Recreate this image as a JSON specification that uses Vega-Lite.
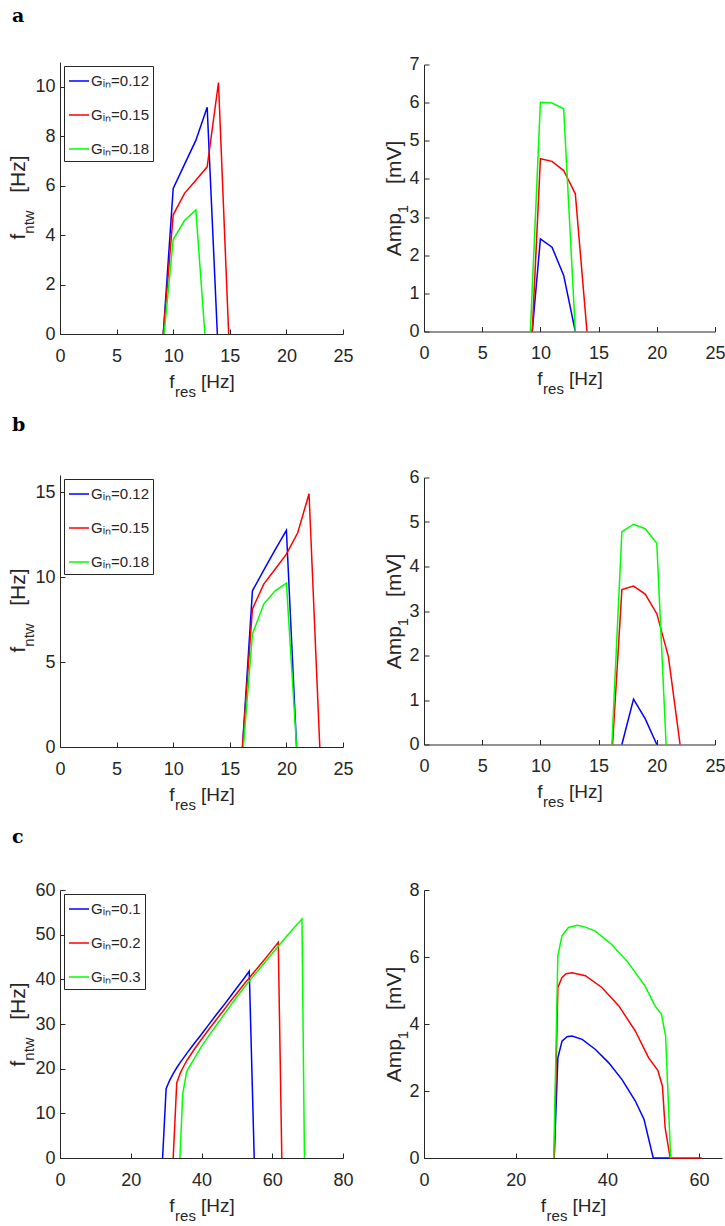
{
  "$schema": "https://vega.github.io/schema/vega-lite/v6.json",
  "background": "white",
  "padding": {"left": 7, "top": 6, "right": 0, "bottom": 0},
  "datasets": {
    "a_f": [
      {"x": 9.12, "y": 0, "G": "Gᵢₙ=0.12"}, {"x": 10, "y": 5.89, "G": "Gᵢₙ=0.12"}, {"x": 11, "y": 6.86, "G": "Gᵢₙ=0.12"}, {"x": 12, "y": 7.83, "G": "Gᵢₙ=0.12"}, {"x": 13, "y": 9.17, "G": "Gᵢₙ=0.12"}, {"x": 13.9, "y": 0, "G": "Gᵢₙ=0.12"},
      {"x": 9.12, "y": 0, "G": "Gᵢₙ=0.15"}, {"x": 10, "y": 4.82, "G": "Gᵢₙ=0.15"}, {"x": 11, "y": 5.69, "G": "Gᵢₙ=0.15"}, {"x": 12, "y": 6.22, "G": "Gᵢₙ=0.15"}, {"x": 13, "y": 6.76, "G": "Gᵢₙ=0.15"}, {"x": 14, "y": 10.17, "G": "Gᵢₙ=0.15"}, {"x": 14.9, "y": 0, "G": "Gᵢₙ=0.15"},
      {"x": 9.2, "y": 0, "G": "Gᵢₙ=0.18"}, {"x": 10, "y": 3.82, "G": "Gᵢₙ=0.18"}, {"x": 11, "y": 4.59, "G": "Gᵢₙ=0.18"}, {"x": 12, "y": 5.02, "G": "Gᵢₙ=0.18"}, {"x": 12.8, "y": 0, "G": "Gᵢₙ=0.18"}
    ],
    "a_amp": [
      {"x": 9.3, "y": 0, "G": "Gᵢₙ=0.12"}, {"x": 10, "y": 2.43, "G": "Gᵢₙ=0.12"}, {"x": 11, "y": 2.21, "G": "Gᵢₙ=0.12"}, {"x": 12, "y": 1.47, "G": "Gᵢₙ=0.12"}, {"x": 13, "y": 0, "G": "Gᵢₙ=0.12"},
      {"x": 9.3, "y": 0, "G": "Gᵢₙ=0.15"}, {"x": 10, "y": 4.53, "G": "Gᵢₙ=0.15"}, {"x": 11, "y": 4.46, "G": "Gᵢₙ=0.15"}, {"x": 12, "y": 4.22, "G": "Gᵢₙ=0.15"}, {"x": 13, "y": 3.61, "G": "Gᵢₙ=0.15"}, {"x": 14, "y": 0, "G": "Gᵢₙ=0.15"},
      {"x": 9.14, "y": 0, "G": "Gᵢₙ=0.18"}, {"x": 10, "y": 6.01, "G": "Gᵢₙ=0.18"}, {"x": 11, "y": 5.99, "G": "Gᵢₙ=0.18"}, {"x": 12, "y": 5.84, "G": "Gᵢₙ=0.18"}, {"x": 13, "y": 0, "G": "Gᵢₙ=0.18"}
    ],
    "b_f": [
      {"x": 16.12, "y": 0, "G": "Gᵢₙ=0.12"}, {"x": 17, "y": 9.19, "G": "Gᵢₙ=0.12"}, {"x": 18, "y": 10.4, "G": "Gᵢₙ=0.12"}, {"x": 19, "y": 11.6, "G": "Gᵢₙ=0.12"}, {"x": 20, "y": 12.75, "G": "Gᵢₙ=0.12"}, {"x": 20.9, "y": 0, "G": "Gᵢₙ=0.12"},
      {"x": 16.12, "y": 0, "G": "Gᵢₙ=0.15"}, {"x": 17, "y": 8.12, "G": "Gᵢₙ=0.15"}, {"x": 18, "y": 9.58, "G": "Gᵢₙ=0.15"}, {"x": 19, "y": 10.46, "G": "Gᵢₙ=0.15"}, {"x": 20, "y": 11.34, "G": "Gᵢₙ=0.15"}, {"x": 21, "y": 12.6, "G": "Gᵢₙ=0.15"}, {"x": 22, "y": 14.9, "G": "Gᵢₙ=0.15"}, {"x": 22.95, "y": 0, "G": "Gᵢₙ=0.15"},
      {"x": 16.2, "y": 0, "G": "Gᵢₙ=0.18"}, {"x": 17, "y": 6.65, "G": "Gᵢₙ=0.18"}, {"x": 18, "y": 8.41, "G": "Gᵢₙ=0.18"}, {"x": 19, "y": 9.19, "G": "Gᵢₙ=0.18"}, {"x": 20, "y": 9.64, "G": "Gᵢₙ=0.18"}, {"x": 20.9, "y": 0, "G": "Gᵢₙ=0.18"}
    ],
    "b_amp": [
      {"x": 17, "y": 0, "G": "Gᵢₙ=0.12"}, {"x": 18, "y": 1.02, "G": "Gᵢₙ=0.12"}, {"x": 19, "y": 0.58, "G": "Gᵢₙ=0.12"}, {"x": 20, "y": 0, "G": "Gᵢₙ=0.12"},
      {"x": 16.2, "y": 0, "G": "Gᵢₙ=0.15"}, {"x": 17, "y": 3.48, "G": "Gᵢₙ=0.15"}, {"x": 18, "y": 3.56, "G": "Gᵢₙ=0.15"}, {"x": 19, "y": 3.38, "G": "Gᵢₙ=0.15"}, {"x": 20, "y": 2.94, "G": "Gᵢₙ=0.15"}, {"x": 21, "y": 1.97, "G": "Gᵢₙ=0.15"}, {"x": 22, "y": 0, "G": "Gᵢₙ=0.15"},
      {"x": 16.14, "y": 0, "G": "Gᵢₙ=0.18"}, {"x": 17, "y": 4.78, "G": "Gᵢₙ=0.18"}, {"x": 18, "y": 4.95, "G": "Gᵢₙ=0.18"}, {"x": 19, "y": 4.85, "G": "Gᵢₙ=0.18"}, {"x": 20, "y": 4.52, "G": "Gᵢₙ=0.18"}, {"x": 20.8, "y": 0, "G": "Gᵢₙ=0.18"}
    ],
    "c_f": [
      {"x": 29, "y": 0, "G": "Gᵢₙ=0.1"}, {"x": 30, "y": 15.5, "G": "Gᵢₙ=0.1"}, {"x": 31, "y": 17.4, "G": "Gᵢₙ=0.1"}, {"x": 32, "y": 18.9, "G": "Gᵢₙ=0.1"}, {"x": 33, "y": 20.2, "G": "Gᵢₙ=0.1"}, {"x": 34, "y": 21.4, "G": "Gᵢₙ=0.1"}, {"x": 36, "y": 23.6, "G": "Gᵢₙ=0.1"}, {"x": 38, "y": 25.7, "G": "Gᵢₙ=0.1"}, {"x": 40, "y": 27.7, "G": "Gᵢₙ=0.1"}, {"x": 42, "y": 29.8, "G": "Gᵢₙ=0.1"}, {"x": 44, "y": 31.9, "G": "Gᵢₙ=0.1"}, {"x": 46, "y": 33.9, "G": "Gᵢₙ=0.1"}, {"x": 48, "y": 36.0, "G": "Gᵢₙ=0.1"}, {"x": 50, "y": 38.1, "G": "Gᵢₙ=0.1"}, {"x": 52, "y": 40.2, "G": "Gᵢₙ=0.1"}, {"x": 53.5, "y": 41.8, "G": "Gᵢₙ=0.1"}, {"x": 54.9, "y": 0, "G": "Gᵢₙ=0.1"},
      {"x": 32, "y": 0, "G": "Gᵢₙ=0.2"}, {"x": 33, "y": 16.8, "G": "Gᵢₙ=0.2"}, {"x": 34, "y": 19.0, "G": "Gᵢₙ=0.2"}, {"x": 35, "y": 20.6, "G": "Gᵢₙ=0.2"}, {"x": 36, "y": 22.0, "G": "Gᵢₙ=0.2"}, {"x": 38, "y": 24.4, "G": "Gᵢₙ=0.2"}, {"x": 40, "y": 26.6, "G": "Gᵢₙ=0.2"}, {"x": 42, "y": 28.7, "G": "Gᵢₙ=0.2"}, {"x": 44, "y": 30.8, "G": "Gᵢₙ=0.2"}, {"x": 46, "y": 32.8, "G": "Gᵢₙ=0.2"}, {"x": 48, "y": 34.9, "G": "Gᵢₙ=0.2"}, {"x": 50, "y": 36.9, "G": "Gᵢₙ=0.2"}, {"x": 52, "y": 38.9, "G": "Gᵢₙ=0.2"}, {"x": 54, "y": 40.8, "G": "Gᵢₙ=0.2"}, {"x": 56, "y": 42.7, "G": "Gᵢₙ=0.2"}, {"x": 58, "y": 44.6, "G": "Gᵢₙ=0.2"}, {"x": 60, "y": 46.6, "G": "Gᵢₙ=0.2"}, {"x": 61.7, "y": 48.3, "G": "Gᵢₙ=0.2"}, {"x": 62.7, "y": 0, "G": "Gᵢₙ=0.2"},
      {"x": 33.9, "y": 0, "G": "Gᵢₙ=0.3"}, {"x": 34.7, "y": 14.4, "G": "Gᵢₙ=0.3"}, {"x": 35.8, "y": 19.3, "G": "Gᵢₙ=0.3"}, {"x": 37, "y": 21.0, "G": "Gᵢₙ=0.3"}, {"x": 38, "y": 22.3, "G": "Gᵢₙ=0.3"}, {"x": 40, "y": 25.0, "G": "Gᵢₙ=0.3"}, {"x": 42, "y": 27.3, "G": "Gᵢₙ=0.3"}, {"x": 44, "y": 29.5, "G": "Gᵢₙ=0.3"}, {"x": 46, "y": 31.7, "G": "Gᵢₙ=0.3"}, {"x": 48, "y": 33.9, "G": "Gᵢₙ=0.3"}, {"x": 50, "y": 36.1, "G": "Gᵢₙ=0.3"}, {"x": 52, "y": 38.1, "G": "Gᵢₙ=0.3"}, {"x": 54, "y": 40.1, "G": "Gᵢₙ=0.3"}, {"x": 56, "y": 42.0, "G": "Gᵢₙ=0.3"}, {"x": 58, "y": 43.9, "G": "Gᵢₙ=0.3"}, {"x": 60, "y": 45.8, "G": "Gᵢₙ=0.3"}, {"x": 62, "y": 47.7, "G": "Gᵢₙ=0.3"}, {"x": 64, "y": 49.6, "G": "Gᵢₙ=0.3"}, {"x": 66, "y": 51.4, "G": "Gᵢₙ=0.3"}, {"x": 68.4, "y": 53.5, "G": "Gᵢₙ=0.3"}, {"x": 69.1, "y": 0, "G": "Gᵢₙ=0.3"}
    ],
    "c_amp": [
      {"x": 28.4, "y": 0, "G": "Gᵢₙ=0.1"}, {"x": 29.2, "y": 2.99, "G": "Gᵢₙ=0.1"}, {"x": 30.1, "y": 3.49, "G": "Gᵢₙ=0.1"}, {"x": 31.2, "y": 3.62, "G": "Gᵢₙ=0.1"}, {"x": 32.3, "y": 3.64, "G": "Gᵢₙ=0.1"}, {"x": 34.5, "y": 3.54, "G": "Gᵢₙ=0.1"}, {"x": 37.4, "y": 3.24, "G": "Gᵢₙ=0.1"}, {"x": 40.3, "y": 2.84, "G": "Gᵢₙ=0.1"}, {"x": 43.2, "y": 2.34, "G": "Gᵢₙ=0.1"}, {"x": 46.1, "y": 1.7, "G": "Gᵢₙ=0.1"}, {"x": 48, "y": 1.15, "G": "Gᵢₙ=0.1"}, {"x": 50, "y": 0, "G": "Gᵢₙ=0.1"}, {"x": 53.8, "y": 0, "G": "Gᵢₙ=0.1"},
      {"x": 28.4, "y": 0, "G": "Gᵢₙ=0.2"}, {"x": 29.2, "y": 5.09, "G": "Gᵢₙ=0.2"}, {"x": 30.1, "y": 5.39, "G": "Gᵢₙ=0.2"}, {"x": 31, "y": 5.5, "G": "Gᵢₙ=0.2"}, {"x": 32.3, "y": 5.53, "G": "Gᵢₙ=0.2"}, {"x": 35.2, "y": 5.44, "G": "Gᵢₙ=0.2"}, {"x": 38.8, "y": 5.09, "G": "Gᵢₙ=0.2"}, {"x": 42.5, "y": 4.54, "G": "Gᵢₙ=0.2"}, {"x": 46.1, "y": 3.79, "G": "Gᵢₙ=0.2"}, {"x": 49, "y": 2.99, "G": "Gᵢₙ=0.2"}, {"x": 51, "y": 2.62, "G": "Gᵢₙ=0.2"}, {"x": 52, "y": 2.15, "G": "Gᵢₙ=0.2"}, {"x": 52.6, "y": 0.9, "G": "Gᵢₙ=0.2"}, {"x": 53.7, "y": 0, "G": "Gᵢₙ=0.2"}, {"x": 60.6, "y": 0, "G": "Gᵢₙ=0.2"},
      {"x": 28.3, "y": 0, "G": "Gᵢₙ=0.3"}, {"x": 29.2, "y": 6.04, "G": "Gᵢₙ=0.3"}, {"x": 30.1, "y": 6.63, "G": "Gᵢₙ=0.3"}, {"x": 31.5, "y": 6.88, "G": "Gᵢₙ=0.3"}, {"x": 33.5, "y": 6.95, "G": "Gᵢₙ=0.3"}, {"x": 35, "y": 6.9, "G": "Gᵢₙ=0.3"}, {"x": 37.3, "y": 6.78, "G": "Gᵢₙ=0.3"}, {"x": 40.9, "y": 6.38, "G": "Gᵢₙ=0.3"}, {"x": 44.5, "y": 5.84, "G": "Gᵢₙ=0.3"}, {"x": 48.2, "y": 5.14, "G": "Gᵢₙ=0.3"}, {"x": 50.4, "y": 4.54, "G": "Gᵢₙ=0.3"}, {"x": 51.8, "y": 4.29, "G": "Gᵢₙ=0.3"}, {"x": 52.7, "y": 3.64, "G": "Gᵢₙ=0.3"}, {"x": 53.8, "y": 0, "G": "Gᵢₙ=0.3"}
    ]
  },
  "vconcat": [
    {
      "title": {"text": "a", "offset": 30},
      "center": true,
      "resolve": {"scale": {"color": "independent"}, "legend": {"color": "independent"}},
      "hconcat": [
        {
          "width": 283, "height": 272,
          "data": {"name": "a_f"},
          "layer": [
            {"mark": {"type": "line", "strokeWidth": 1.5},
             "encoding": {
               "x": {"field": "x", "type": "quantitative", "scale": {"domain": [0, 25], "nice": false, "zero": false}, "axis": {"values": [0, 5, 10, 15, 20, 25], "title": "f\u00a0\u00a0\u00a0\u00a0\u00a0[Hz]", "titleX": 141.5, "titleY": 53}},
               "y": {"field": "y", "type": "quantitative", "scale": {"domain": [0, 11], "nice": false}, "axis": {"values": [0, 2, 4, 6, 8, 10], "title": "f\u00a0\u00a0\u00a0\u00a0\u00a0\u00a0\u00a0[Hz]", "titleX": -36, "titleY": 135}},
               "color": {"field": "G", "type": "nominal", "scale": {"domain": ["Gᵢₙ=0.12", "Gᵢₙ=0.15", "Gᵢₙ=0.18"], "range": ["#0000ff", "#ff0000", "#00ff00"]}, "legend": {"title": null}}
             }},
            {"mark": {"type": "point", "opacity": 0},
             "encoding": {
               "x": {"field": "x", "type": "quantitative", "axis": {"orient": "bottom", "title": "res", "labels": false, "ticks": false, "domain": false, "titleFontSize": 15, "titleX": 125, "titleY": 62}},
               "y": {"field": "y", "type": "quantitative", "axis": {"orient": "left", "title": "ntw", "labels": false, "ticks": false, "domain": false, "titleFontSize": 15, "titleX": -27, "titleY": 159.5}}
             }}
          ],
          "resolve": {"axis": {"x": "independent", "y": "independent"}}
        },
        {
          "width": 291, "height": 267,
          "data": {"name": "a_amp"},
          "layer": [
            {"mark": {"type": "line", "strokeWidth": 1.5},
             "encoding": {
               "x": {"field": "x", "type": "quantitative", "scale": {"domain": [0, 25], "nice": false, "zero": false}, "axis": {"values": [0, 5, 10, 15, 20, 25], "title": "f\u00a0\u00a0\u00a0\u00a0\u00a0[Hz]", "titleX": 145.5, "titleY": 53}},
               "y": {"field": "y", "type": "quantitative", "scale": {"domain": [0, 7], "nice": false}, "axis": {"values": [0, 1, 2, 3, 4, 5, 6, 7], "title": "Amp\u00a0\u00a0\u00a0\u00a0\u00a0[mV]", "titleX": -24, "titleY": 133.5}},
               "color": {"field": "G", "type": "nominal", "scale": {"domain": ["Gᵢₙ=0.12", "Gᵢₙ=0.15", "Gᵢₙ=0.18"], "range": ["#0000ff", "#ff0000", "#00ff00"]}, "legend": null}
             }},
            {"mark": {"type": "point", "opacity": 0},
             "encoding": {
               "x": {"field": "x", "type": "quantitative", "axis": {"orient": "bottom", "title": "res", "labels": false, "ticks": false, "domain": false, "titleFontSize": 15, "titleX": 129, "titleY": 62}},
               "y": {"field": "y", "type": "quantitative", "axis": {"orient": "left", "title": "1", "labels": false, "ticks": false, "domain": false, "titleFontSize": 15, "titleX": -17, "titleY": 144}}
             }}
          ],
          "resolve": {"axis": {"x": "independent", "y": "independent"}}
        }
      ]
    },
    {
      "title": {"text": "b", "offset": 34},
      "center": true,
      "resolve": {"scale": {"color": "independent"}, "legend": {"color": "independent"}},
      "hconcat": [
        {
          "width": 283, "height": 272,
          "data": {"name": "b_f"},
          "layer": [
            {"mark": {"type": "line", "strokeWidth": 1.5},
             "encoding": {
               "x": {"field": "x", "type": "quantitative", "scale": {"domain": [0, 25], "nice": false, "zero": false}, "axis": {"values": [0, 5, 10, 15, 20, 25], "title": "f\u00a0\u00a0\u00a0\u00a0\u00a0[Hz]", "titleX": 141.5, "titleY": 53}},
               "y": {"field": "y", "type": "quantitative", "scale": {"domain": [0, 16], "nice": false}, "axis": {"values": [0, 5, 10, 15], "title": "f\u00a0\u00a0\u00a0\u00a0\u00a0\u00a0\u00a0[Hz]", "titleX": -36, "titleY": 135}},
               "color": {"field": "G", "type": "nominal", "scale": {"domain": ["Gᵢₙ=0.12", "Gᵢₙ=0.15", "Gᵢₙ=0.18"], "range": ["#0000ff", "#ff0000", "#00ff00"]}, "legend": {"title": null}}
             }},
            {"mark": {"type": "point", "opacity": 0},
             "encoding": {
               "x": {"field": "x", "type": "quantitative", "axis": {"orient": "bottom", "title": "res", "labels": false, "ticks": false, "domain": false, "titleFontSize": 15, "titleX": 125, "titleY": 62}},
               "y": {"field": "y", "type": "quantitative", "axis": {"orient": "left", "title": "ntw", "labels": false, "ticks": false, "domain": false, "titleFontSize": 15, "titleX": -27, "titleY": 159.5}}
             }}
          ],
          "resolve": {"axis": {"x": "independent", "y": "independent"}}
        },
        {
          "width": 291, "height": 267,
          "data": {"name": "b_amp"},
          "layer": [
            {"mark": {"type": "line", "strokeWidth": 1.5},
             "encoding": {
               "x": {"field": "x", "type": "quantitative", "scale": {"domain": [0, 25], "nice": false, "zero": false}, "axis": {"values": [0, 5, 10, 15, 20, 25], "title": "f\u00a0\u00a0\u00a0\u00a0\u00a0[Hz]", "titleX": 145.5, "titleY": 53}},
               "y": {"field": "y", "type": "quantitative", "scale": {"domain": [0, 6], "nice": false}, "axis": {"values": [0, 1, 2, 3, 4, 5, 6], "title": "Amp\u00a0\u00a0\u00a0\u00a0\u00a0[mV]", "titleX": -24, "titleY": 133.5}},
               "color": {"field": "G", "type": "nominal", "scale": {"domain": ["Gᵢₙ=0.12", "Gᵢₙ=0.15", "Gᵢₙ=0.18"], "range": ["#0000ff", "#ff0000", "#00ff00"]}, "legend": null}
             }},
            {"mark": {"type": "point", "opacity": 0},
             "encoding": {
               "x": {"field": "x", "type": "quantitative", "axis": {"orient": "bottom", "title": "res", "labels": false, "ticks": false, "domain": false, "titleFontSize": 15, "titleX": 129, "titleY": 62}},
               "y": {"field": "y", "type": "quantitative", "axis": {"orient": "left", "title": "1", "labels": false, "ticks": false, "domain": false, "titleFontSize": 15, "titleX": -17, "titleY": 144}}
             }}
          ],
          "resolve": {"axis": {"x": "independent", "y": "independent"}}
        }
      ]
    },
    {
      "title": {"text": "c", "offset": 34},
      "center": true,
      "resolve": {"scale": {"color": "independent"}, "legend": {"color": "independent"}},
      "hconcat": [
        {
          "width": 283, "height": 268,
          "data": {"name": "c_f"},
          "layer": [
            {"mark": {"type": "line", "strokeWidth": 1.5},
             "encoding": {
               "x": {"field": "x", "type": "quantitative", "scale": {"domain": [0, 80], "nice": false, "zero": false}, "axis": {"values": [0, 20, 40, 60, 80], "title": "f\u00a0\u00a0\u00a0\u00a0\u00a0[Hz]", "titleX": 141.5, "titleY": 53}},
               "y": {"field": "y", "type": "quantitative", "scale": {"domain": [0, 60], "nice": false}, "axis": {"values": [0, 10, 20, 30, 40, 50, 60], "title": "f\u00a0\u00a0\u00a0\u00a0\u00a0\u00a0\u00a0[Hz]", "titleX": -36, "titleY": 134}},
               "color": {"field": "G", "type": "nominal", "scale": {"domain": ["Gᵢₙ=0.1", "Gᵢₙ=0.2", "Gᵢₙ=0.3"], "range": ["#0000ff", "#ff0000", "#00ff00"]}, "legend": {"title": null}}
             }},
            {"mark": {"type": "point", "opacity": 0},
             "encoding": {
               "x": {"field": "x", "type": "quantitative", "axis": {"orient": "bottom", "title": "res", "labels": false, "ticks": false, "domain": false, "titleFontSize": 15, "titleX": 125, "titleY": 62}},
               "y": {"field": "y", "type": "quantitative", "axis": {"orient": "left", "title": "ntw", "labels": false, "ticks": false, "domain": false, "titleFontSize": 15, "titleX": -27, "titleY": 158.5}}
             }}
          ],
          "resolve": {"axis": {"x": "independent", "y": "independent"}}
        },
        {
          "width": 298, "height": 268,
          "data": {"name": "c_amp"},
          "layer": [
            {"mark": {"type": "line", "strokeWidth": 1.5},
             "encoding": {
               "x": {"field": "x", "type": "quantitative", "scale": {"domain": [0, 65], "nice": false, "zero": false}, "axis": {"values": [0, 20, 40, 60], "title": "f\u00a0\u00a0\u00a0\u00a0\u00a0[Hz]", "titleX": 149, "titleY": 53}},
               "y": {"field": "y", "type": "quantitative", "scale": {"domain": [0, 8], "nice": false}, "axis": {"values": [0, 2, 4, 6, 8], "title": "Amp\u00a0\u00a0\u00a0\u00a0\u00a0[mV]", "titleX": -24, "titleY": 134}},
               "color": {"field": "G", "type": "nominal", "scale": {"domain": ["Gᵢₙ=0.1", "Gᵢₙ=0.2", "Gᵢₙ=0.3"], "range": ["#0000ff", "#ff0000", "#00ff00"]}, "legend": null}
             }},
            {"mark": {"type": "point", "opacity": 0},
             "encoding": {
               "x": {"field": "x", "type": "quantitative", "axis": {"orient": "bottom", "title": "res", "labels": false, "ticks": false, "domain": false, "titleFontSize": 15, "titleX": 132.5, "titleY": 62}},
               "y": {"field": "y", "type": "quantitative", "axis": {"orient": "left", "title": "1", "labels": false, "ticks": false, "domain": false, "titleFontSize": 15, "titleX": -17, "titleY": 144.5}}
             }}
          ],
          "resolve": {"axis": {"x": "independent", "y": "independent"}}
        }
      ]
    }
  ],
  "spacing": 16,
  "resolve": {"scale": {"color": "independent"}, "legend": {"color": "independent"}},
  "config": {
    "font": "Liberation Sans",
    "view": {"stroke": null},
    "concat": {"spacing": 29},
    "title": {"font": "DejaVu Serif", "fontWeight": "bold", "fontSize": 19, "anchor": "start", "dx": 5, "color": "black", "frame": "bounds"},
    "axis": {
      "grid": false,
      "labelFont": "Liberation Sans", "labelFontSize": 18, "labelColor": "#262626",
      "titleFont": "Liberation Sans", "titleFontWeight": "normal", "titleFontSize": 19, "titleColor": "#262626",
      "titleBaseline": "alphabetic", "titleAlign": "center",
      "domainColor": "#262626", "domainWidth": 1, "tickColor": "#262626", "tickWidth": 1, "tickSize": -5
    },
    "axisX": {"labelPadding": 18, "labelFlush": false},
    "axisY": {"labelPadding": 10, "titleAngle": 270, "titleFontSize": 21},
    "legend": {
      "orient": "top-left", "offset": 4, "strokeColor": "#262626", "fillColor": "white", "padding": 4,
      "labelFont": "Liberation Sans", "labelFontSize": 15, "labelColor": "#262626",
      "symbolType": "stroke", "symbolSize": 400, "symbolStrokeWidth": 1.5, "rowPadding": 15, "labelOffset": 1, "cornerRadius": 0
    }
  }
}
